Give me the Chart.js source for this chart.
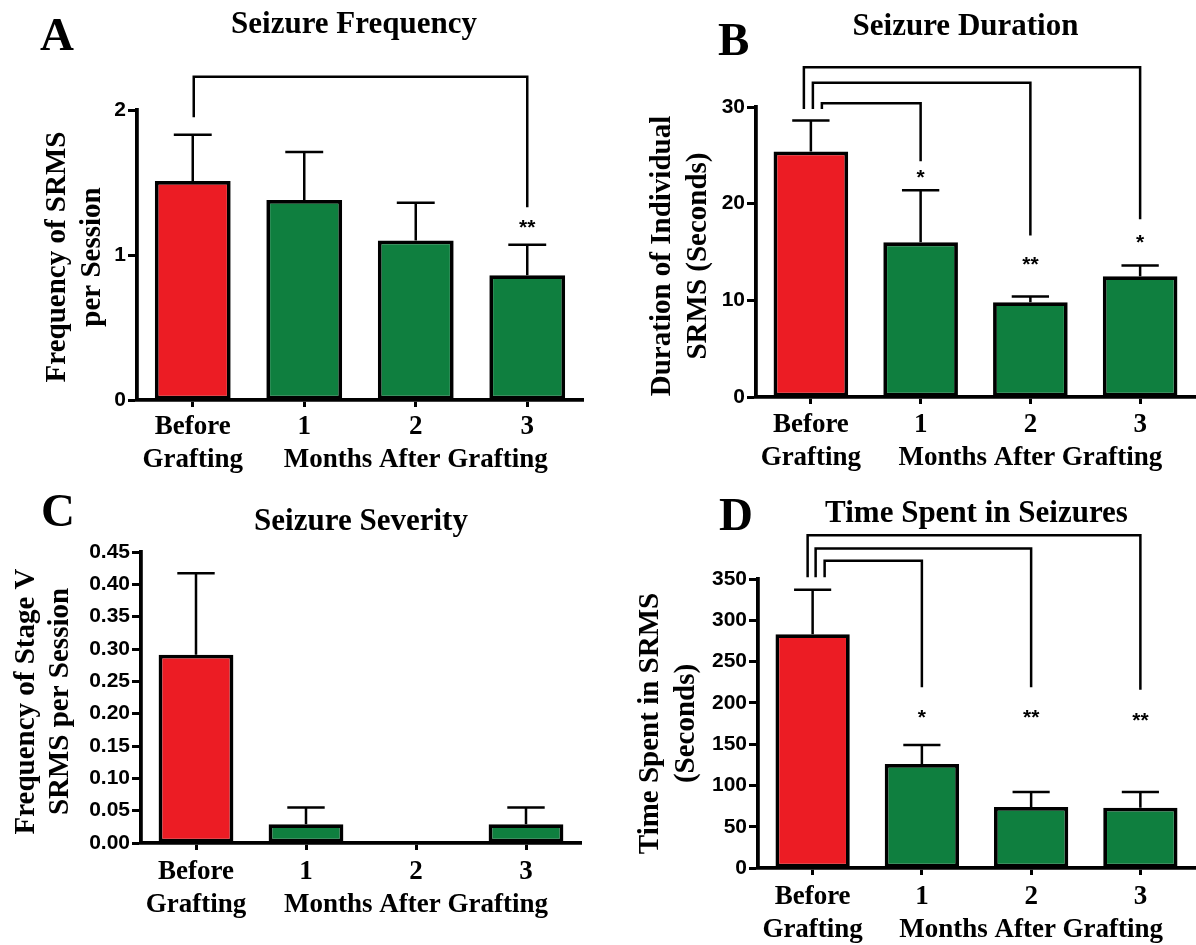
<!DOCTYPE html>
<html>
<head>
<meta charset="utf-8">
<script src="https://cdn.jsdelivr.net/npm/chart.js@4.4.0/dist/chart.umd.min.js"></script>
<style>
  html, body { margin: 0; padding: 0; background: #fff; }
  body { width: 1196px; height: 945px; position: relative; overflow: hidden; }
  canvas { position: absolute; }
</style>
</head>
<body>
<canvas id="panelA" width="598" height="485" style="left:0;top:0"></canvas>
<canvas id="panelB" width="598" height="485" style="left:598px;top:0"></canvas>
<canvas id="panelC" width="598" height="475" style="left:0;top:470px"></canvas>
<canvas id="panelD" width="598" height="475" style="left:598px;top:470px"></canvas>
<script>
/* ============================================================
   DATA
============================================================ */

const categories = [['Before', 'Grafting'], '1', '2', '3'];
const monthsLabel = 'Months After Grafting';
const barColors = ['#ec1c24', '#0f7f3f', '#0f7f3f', '#0f7f3f'];

// A: seizure frequency
const freqMean = [1.51, 1.38, 1.10, 0.86];
const freqErr = [1.83, 1.71, 1.36, 1.07];
const freqTicks = [0, 1, 2];
const freqBrackets = [{ to: 3, top: 2.23, legL: 1.95, legR: 1.33 }];
const freqStars = ['', '', '', '**'];
const freqStarAt = [null, null, null, 1.22];

// B: seizure duration
const durMean = [25.4, 16.0, 9.8, 12.5];
const durErr = [28.6, 21.4, 10.4, 13.6];
const durTicks = [0, 10, 20, 30];
const durBrackets = [
    { to: 3, top: 34.1, legL: 29.8, legR: 18.4 },
    { to: 2, top: 32.5, legL: 29.8, legR: 16.7 },
    { to: 1, top: 30.4, legL: 29.8, legR: 24.4 }
];
const durStars = ['', '*', '**', '*'];
const durStarAt = [null, 23.1, 14.1, 16.4];

// C: seizure severity
const sevMean = [0.291, 0.029, 0, 0.029];
const sevErr = [0.417, 0.055, null, 0.055];
const sevTicks = [0, 0.05, 0.10, 0.15, 0.20, 0.25, 0.30, 0.35, 0.40, 0.45];

// D: time spent in seizures
const timeMean = [283, 126, 74, 73];
const timeErr = [337, 149, 92, 92];
const timeTicks = [0, 50, 100, 150, 200, 250, 300, 350];
const timeBrackets = [
    { to: 3, top: 403, legL: 352, legR: 216 },
    { to: 2, top: 387, legL: 352, legR: 219 },
    { to: 1, top: 372, legL: 352, legR: 219 }
];
const timeStars = ['', '*', '**', '**'];
const timeStarAt = [null, 188, 188, 184];


/* ============================================================
   PANEL BUILDER
============================================================ */

const SERIF = '"Liberation Serif", "Times New Roman", serif';
const SANS = '"Liberation Sans", Arial, sans-serif';

function makePanel(id, d, L) {
    const canvas = document.getElementById(id);

    const extras = {
        id: 'extras',
        afterDatasetsDraw(chart) {
            const { ctx, scales: { x, y } } = chart;
            const meta = chart.getDatasetMeta(0);
            ctx.save();
            ctx.strokeStyle = '#000';
            ctx.lineWidth = 2.5;

            // error bars (upper half only)
            d.err.forEach((e, i) => {
                if (e === null) return;
                const px = x.getPixelForValue(i);
                const half = meta.data[i].width / 4;
                const y0 = y.getPixelForValue(d.mean[i]);
                const y1 = y.getPixelForValue(e);
                ctx.beginPath();
                ctx.moveTo(px, y0);
                ctx.lineTo(px, y1);
                ctx.moveTo(px - half, y1);
                ctx.lineTo(px + half, y1);
                ctx.stroke();
            });

            // significance brackets
            (d.brackets || []).forEach((b, k) => {
                const xl = x.getPixelForValue(0) + L.legDx[k];
                const xr = x.getPixelForValue(b.to);
                const yt = y.getPixelForValue(b.top);
                ctx.beginPath();
                ctx.moveTo(xl, y.getPixelForValue(b.legL));
                ctx.lineTo(xl, yt);
                ctx.lineTo(xr, yt);
                ctx.lineTo(xr, y.getPixelForValue(b.legR));
                ctx.stroke();
            });

            // stars
            ctx.fillStyle = '#000';
            ctx.font = 'bold 21px ' + SANS;
            ctx.textAlign = 'center';
            ctx.textBaseline = 'middle';
            (d.stars || []).forEach((s, i) => {
                if (!s) return;
                ctx.fillText(s, x.getPixelForValue(i), y.getPixelForValue(d.starAt[i]) + 5);
            });
            ctx.restore();
        },
        afterDraw(chart) {
            const { ctx, chartArea: ca, scales: { x } } = chart;
            ctx.save();
            ctx.fillStyle = '#000';
            ctx.textBaseline = 'alphabetic';

            // panel letter
            ctx.font = 'bold 47px ' + SERIF;
            ctx.textAlign = 'left';
            ctx.fillText(d.letter, L.letterX, L.letterY);

            // title
            ctx.font = 'bold 31px ' + SERIF;
            ctx.textAlign = 'center';
            ctx.fillText(d.title, (ca.left + ca.right) / 2 + L.titleDx, L.titleY);

            // months label under categories 1..3
            const lh = 33;
            ctx.font = 'bold 27px ' + SERIF;
            ctx.textBaseline = 'middle';
            ctx.fillText(monthsLabel, x.getPixelForValue(2), x.top + 7 + L.xPad + lh * 1.5);

            // y title, two lines
            ctx.font = 'bold 29px ' + SERIF;
            d.yTitle.forEach((line, k) => {
                ctx.save();
                ctx.translate(L.yTitleX[k], (ca.top + ca.bottom) / 2 + L.yTitleDy);
                ctx.rotate(-Math.PI / 2);
                ctx.fillText(line, 0, 0);
                ctx.restore();
            });
            ctx.restore();
        }
    };

    return new Chart(canvas.getContext('2d'), {
        type: 'bar',
        data: {
            labels: categories,
            datasets: [{
                data: d.mean,
                backgroundColor: barColors,
                borderColor: '#000',
                borderWidth: 3.8,
                borderSkipped: false,
                barPercentage: 0.68,
                categoryPercentage: 1
            }]
        },
        options: {
            responsive: false,
            animation: false,
            events: [],
            layout: { padding: { left: 0, right: L.padRight, top: L.padTop, bottom: 0 } },
            plugins: {
                legend: { display: false },
                tooltip: { enabled: false },
                title: { display: false }
            },
            scales: {
                x: {
                    grid: {
                        display: true, drawOnChartArea: false, drawTicks: true,
                        tickLength: 7, tickWidth: 3, tickColor: '#000', offset: false
                    },
                    border: { display: true, color: '#000', width: 3.8 },
                    ticks: {
                        color: '#000', autoSkip: false, maxRotation: 0, padding: L.xPad,
                        font: { family: SERIF, weight: 'bold', size: 27, lineHeight: '33px' }
                    },
                    afterFit: s => { s.height = L.xHeight; }
                },
                y: {
                    min: d.ticks[0],
                    max: d.ticks[d.ticks.length - 1],
                    afterBuildTicks: s => { s.ticks = d.ticks.map(v => ({ value: v })); },
                    grid: {
                        display: true, drawOnChartArea: false, drawTicks: true,
                        tickLength: 9, tickWidth: 3, tickColor: '#000'
                    },
                    border: { display: true, color: '#000', width: 3.8 },
                    ticks: {
                        color: '#000', padding: 2,
                        font: { family: SANS, weight: 'bold', size: 21 },
                        callback: v => d.fmt(v)
                    },
                    afterFit: s => { s.width = L.yWidth; }
                }
            }
        },
        plugins: [extras]
    });
}


/* ============================================================
   THE FOUR PANELS
============================================================ */

makePanel('panelA', {
    letter: 'A', title: 'Seizure Frequency',
    yTitle: ['Frequency of SRMS', 'per Session'],
    mean: freqMean, err: freqErr, ticks: freqTicks,
    brackets: freqBrackets, stars: freqStars, starAt: freqStarAt,
    fmt: v => String(v)
}, {
    padTop: 110, padRight: 15, xHeight: 85, yWidth: 137, xPad: 4,
    letterX: 40, letterY: 50, titleY: 33, titleDx: -6,
    yTitleX: [58, 93], yTitleDy: 2, legDx: [1]
});

makePanel('panelB', {
    letter: 'B', title: 'Seizure Duration',
    yTitle: ['Duration of Individual', 'SRMS (Seconds)'],
    mean: durMean, err: durErr, ticks: durTicks,
    brackets: durBrackets, stars: durStars, starAt: durStarAt,
    fmt: v => String(v)
}, {
    padTop: 107, padRight: 1, xHeight: 88, yWidth: 158, xPad: 5,
    letterX: 120, letterY: 55, titleY: 35, titleDx: -10,
    yTitleX: [65, 101], yTitleDy: 4, legDx: [-7, 2, 11]
});

makePanel('panelC', {
    letter: 'C', title: 'Seizure Severity',
    yTitle: ['Frequency of Stage V', 'SRMS per Session'],
    mean: sevMean, err: sevErr, ticks: sevTicks,
    fmt: v => v.toFixed(2)
}, {
    padTop: 82, padRight: 17, xHeight: 102, yWidth: 141, xPad: 6,
    letterX: 41, letterY: 56, titleY: 60, titleDx: 0,
    yTitleX: [27, 61], yTitleDy: 4, legDx: []
});

makePanel('panelD', {
    letter: 'D', title: 'Time Spent in Seizures',
    yTitle: ['Time Spent in SRMS', '(Seconds)'],
    mean: timeMean, err: timeErr, ticks: timeTicks,
    brackets: timeBrackets, stars: timeStars, starAt: timeStarAt,
    fmt: v => String(v)
}, {
    padTop: 109, padRight: 1, xHeight: 77, yWidth: 160, xPad: 6,
    letterX: 121, letterY: 60, titleY: 52, titleDx: 0,
    yTitleX: [53, 89], yTitleDy: 0, legDx: [-5, 3, 12]
});
</script>
</body>
</html>
